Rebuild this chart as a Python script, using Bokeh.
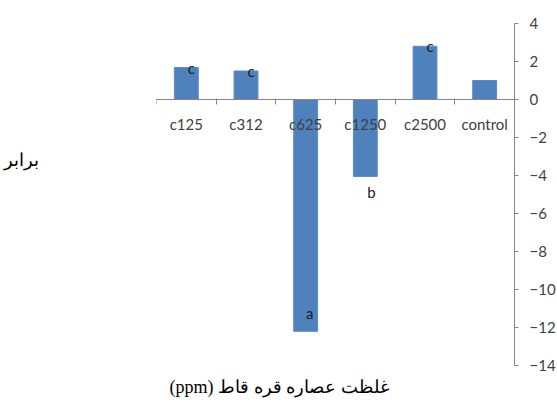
from bokeh.plotting import figure
from bokeh.models import Range1d, LinearAxis, FixedTicker, Title, ColumnDataSource
from bokeh.core.properties import value
from bokeh.embed import file_html
from bokeh.resources import INLINE

categories = ["c125", "c312", "c625", "c1250", "c2500", "control"]
values = [1.68, 1.5, -12.2, -4.05, 2.8, 1.0]
letters = ["c", "c", "a", "b", "c", ""]
y_ticks = [4, 2, 0, -2, -4, -6, -8, -10, -12, -14]
x_title = "غلظت عصاره قره قاط (ppm)"
y_title = "برابر"

BAR = "#4F81BD"
AXIS = "#868686"
LABEL = "#404040"
FONT = "Lato"
TITLE_FONT = "Liberation Serif"

n = len(categories)
centers = [i + 0.5 for i in range(n)]

p = figure(frame_width=358, frame_height=342,
           x_range=Range1d(0, n),
           y_range=Range1d(y_ticks[-1], y_ticks[0]),
           y_axis_location="right",
           output_backend="svg", toolbar_location=None,
           min_border_left=155, min_border_right=42,
           min_border_top=23, min_border_bottom=36)
p.outline_line_color = None
p.grid.visible = False

src = ColumnDataSource(dict(x=centers, top=values, letter=letters))
p.vbar(x="x", top="top", bottom=0, width=0.4, source=src,
       fill_color=BAR, line_color="#5A8AC6", line_width=1)

# letter positions relative to bar ends (screen pixels)
dx = []
dy = []
for v, l in zip(values, letters):
    if v >= 0:
        dx.append(5); dy.append(0)
    elif l == "a":
        dx.append(4); dy.append(-18)
    else:
        dx.append(6); dy.append(16)
src.data["dx"] = dx
src.data["dy"] = dy
p.text(x="x", y="top", text="letter", source=src, x_offset="dx", y_offset="dy",
       text_align="center", text_baseline="middle",
       text_font=value(FONT), text_font_size="15px", text_color="#202020")

# category axis (labels only) at y = 0
xa = p.xaxis[0]
xa.fixed_location = 0
xa.ticker = FixedTicker(ticks=centers)
xa.major_label_overrides = {c: name for c, name in zip(centers, categories)}
xa.axis_line_color = AXIS
xa.major_tick_line_color = None
xa.minor_tick_line_color = None
xa.major_label_standoff = 9
xa.major_label_text_font = FONT
xa.major_label_text_font_size = "15px"
xa.major_label_text_color = LABEL

# boundary ticks between categories
edges = list(range(n + 1))
ea = LinearAxis(ticker=FixedTicker(ticks=edges),
                fixed_location=0, major_tick_out=5, major_tick_in=1,
                major_tick_line_color=AXIS, axis_line_color=AXIS,
                minor_tick_line_color=None,
                major_label_overrides={e: "" for e in edges})
p.add_layout(ea, "below")

ya = p.yaxis[0]
ya.ticker = FixedTicker(ticks=y_ticks)
ya.axis_line_color = AXIS
ya.major_tick_line_color = AXIS
ya.major_tick_out = 4
ya.major_tick_in = 0
ya.minor_tick_line_color = None
ya.major_label_standoff = 11
ya.major_label_text_font = FONT
ya.major_label_text_font_size = "15px"
ya.major_label_text_color = LABEL

# horizontal left-hand label, drawn as the single tick label of a bare left axis
left_label_at = -3.2
la = LinearAxis(ticker=FixedTicker(ticks=[left_label_at]),
                major_label_overrides={left_label_at: y_title},
                axis_line_color=None, major_tick_line_color=None,
                minor_tick_line_color=None, major_label_standoff=112,
                major_label_text_font=TITLE_FONT, major_label_text_font_size="18px",
                major_label_text_color="#000000")
p.add_layout(la, "left")

# bottom title
p.add_layout(Title(text="\u202b" + x_title + "\u202c", align="left", offset=13,
                   standoff=19, text_font=TITLE_FONT, text_font_size="18px",
                   text_font_style="normal", text_color="#000000"), "below")

open("out.html", "w").write(file_html(p, INLINE))
